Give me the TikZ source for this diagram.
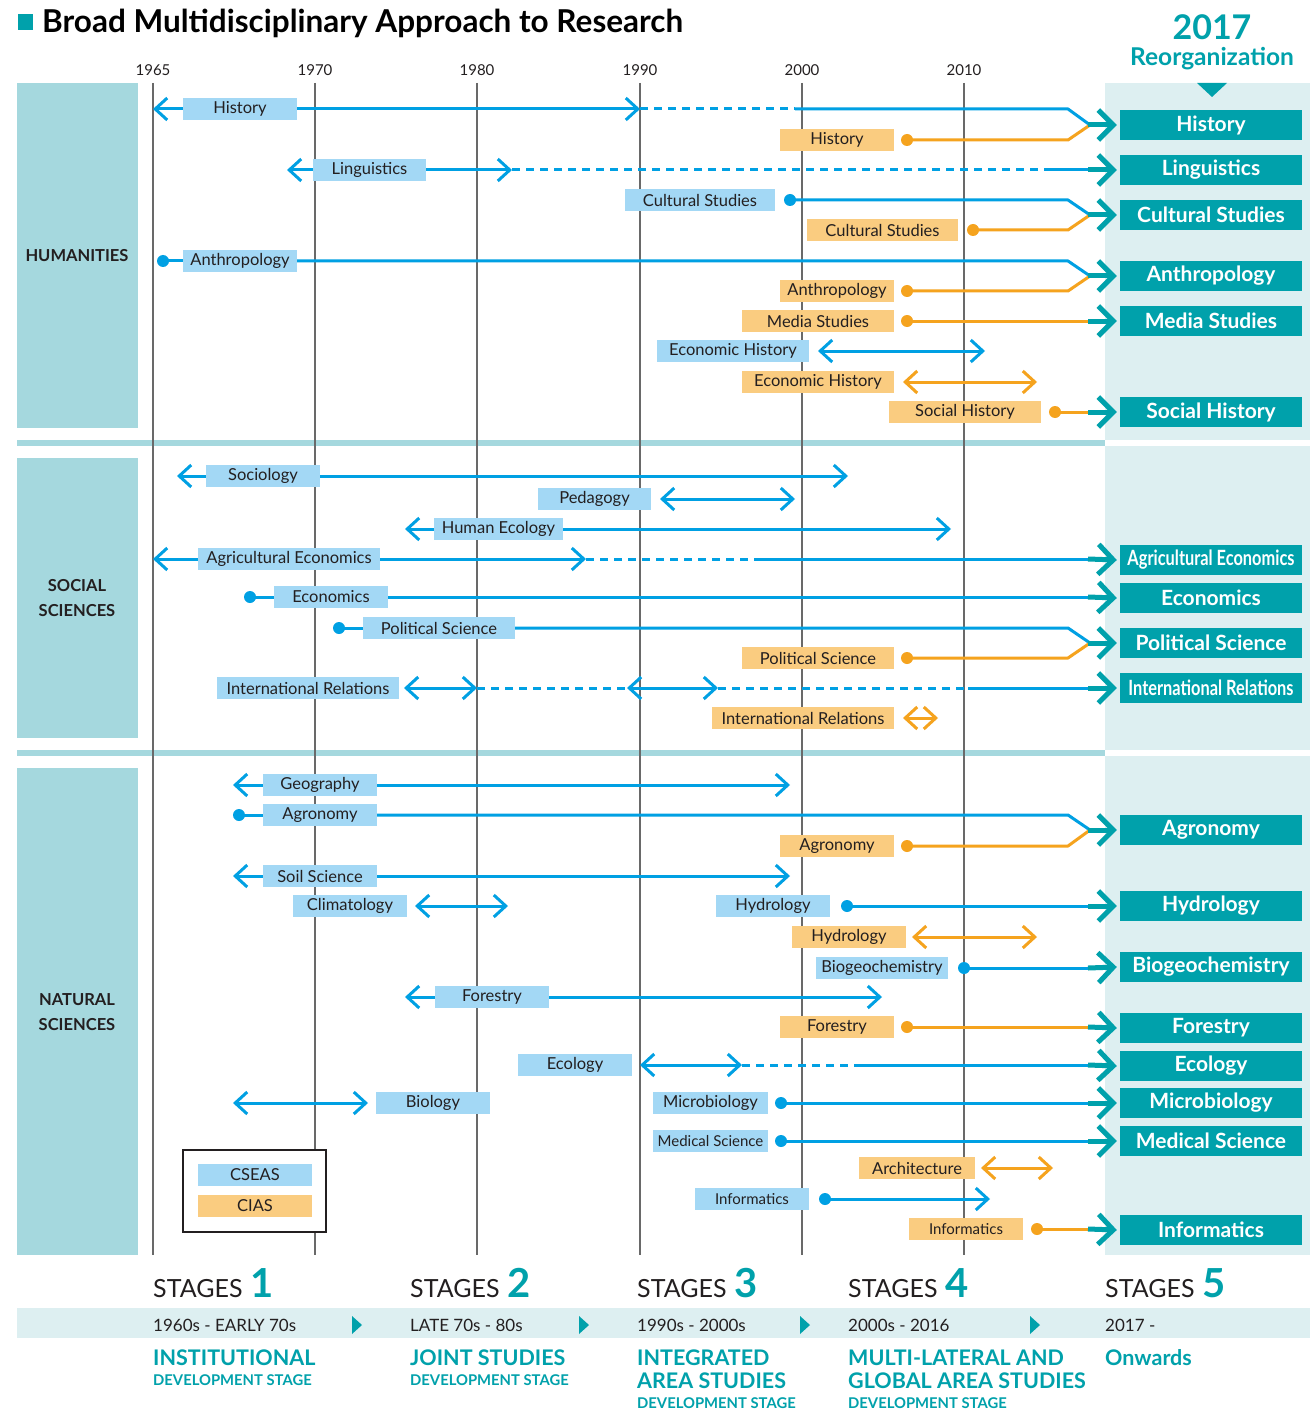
\documentclass[tikz,border=0pt]{standalone}
\usepackage{fontspec}
\usepackage{graphicx}
\setmainfont{Lato}
\usetikzlibrary{arrows.meta}
\definecolor{tealD}{RGB}{0,161,171}
\definecolor{catc}{RGB}{165,216,222}
\definecolor{panel}{RGB}{221,239,241}
\definecolor{cblue}{RGB}{0,160,227}
\definecolor{bfill}{RGB}{163,216,245}
\definecolor{corange}{RGB}{245,163,30}
\definecolor{ofill}{RGB}{250,204,128}
\definecolor{gridc}{RGB}{105,105,105}
\definecolor{txt}{RGB}{35,31,32}
\tikzset{
  chev/.tip={Straight Barb[length=12pt,width=22pt]},
  tchev/.tip={Straight Barb[length=15pt,width=30pt]},
  lab/.style={minimum height=22pt, inner sep=0pt, text=txt, font=\fontsize{16.5}{19}\selectfont},
  cb/.style={lab, fill=bfill},
  co/.style={lab, fill=ofill},
  rbx/.style={fill=tealD, minimum width=182pt, minimum height=30pt, inner sep=0pt, text=white, font=\fontsize{21}{24}\selectfont\bfseries},
  bl/.style={draw=cblue, line width=3pt, line join=round},
  ol/.style={draw=corange, line width=3pt, line join=round},
  tl/.style={draw=tealD, line width=5pt, -tchev},
  dsh/.style={dash pattern=on 8pt off 6pt},
  gridl/.style={draw=gridc, line width=1.4pt},
  yr/.style={font=\fontsize{15}{18}\selectfont, text=txt},
  cat/.style={font=\fontsize{16.5}{25}\selectfont\bfseries, text=txt, align=center},
  stg/.style={anchor=base west, font=\fontsize{25}{30}\selectfont, text=txt, inner sep=0pt},
  per/.style={anchor=west, font=\fontsize{17}{20}\selectfont, text=txt, inner sep=0pt},
  hd/.style={anchor=base west, font=\fontsize{21.5}{24}\selectfont\bfseries, text=tealD, inner sep=0pt},
  sub/.style={anchor=base west, font=\fontsize{14.8}{17}\selectfont\bfseries, text=tealD, inner sep=0pt}
}
\newcommand{\bludot}[1]{\fill[cblue] (#1) circle (6pt);}
\newcommand{\orgdot}[1]{\fill[corange] (#1) circle (6pt);}
\begin{document}
\begin{tikzpicture}[x=1pt,y=-1pt]
\useasboundingbox (0,0) rectangle (1310,1412);
\fill[white] (0,0) rectangle (1310,1412);
% title
\fill[tealD] (18,14) rectangle (33,30);
\node[anchor=base west, inner sep=0pt, font=\fontsize{31.5}{34}\selectfont\bfseries, text=black] (title) at (42,33) {Broad Multidisciplinary Approach to Research};
\node[anchor=base, inner sep=0pt, font=\fontsize{34}{36}\selectfont\bfseries, text=tealD] (y2017) at (1212,40) {2017};
\node[anchor=base, inner sep=0pt, font=\fontsize{24.5}{27}\selectfont\bfseries, text=tealD] (reorg) at (1212,66) {Reorganization};
% panels
\fill[catc] (17,83) rectangle (138,428);
\fill[catc] (17,458) rectangle (138,738);
\fill[catc] (17,768) rectangle (138,1255);
\fill[panel] (1105,83) rectangle (1310,440);
\fill[panel] (1105,446) rectangle (1310,750);
\fill[panel] (1105,756) rectangle (1310,1255);
\fill[catc] (17,440) rectangle (1105,446);
\fill[catc] (17,750) rectangle (1105,756);
\fill[tealD] (1197,83) -- (1227,83) -- (1212,97) -- cycle;
\node[cat] (hum) at (77,256) {HUMANITIES};
\node[cat] (soc) at (77,598) {SOCIAL\\SCIENCES};
\node[cat] (nat) at (77,1012) {NATURAL\\SCIENCES};
% years and grid
\foreach \x/\y in {153/1965,315/1970,477/1980,640/1990,802/2000,964/2010}{
  \node[yr] (yr\y) at (\x,70) {\y};
  \draw[gridl] (\x,83) -- (\x,1255);
}
% ================= HUMANITIES
\node[cb,minimum width=114pt] (hisB) at (240,109) {History};
\draw[bl,-chev] (hisB.west) -- (153,109);
\draw[bl,-chev] (hisB.east) -- (640,109);
\draw[bl,dsh] (640,109) -- (795,109);
\draw[bl] (795,109) -- (1068,109) -- (1090,125);
\node[co,minimum width=114pt] (hisO) at (837,140) {History};
\draw[ol] (907,140) -- (1068,140) -- (1090,125);
\orgdot{907,140}
\node[rbx] (hisR) at (1211,125) {History};
\draw[tl] (1088,125) -- ([xshift=-3pt]hisR.west);

\node[cb,minimum width=113pt] (linB) at (369.5,170) {Linguistics};
\draw[bl,-chev] (linB.west) -- (287,170);
\draw[bl,-chev] (linB.east) -- (512,170);
\draw[bl,dsh] (512,170) -- (1045,170);
\draw[bl] (1045,170) -- (1090,170);
\node[rbx] (linR) at (1211,170) {Linguistics};
\draw[tl] (1088,170) -- ([xshift=-3pt]linR.west);

\node[cb,minimum width=150pt] (culB) at (700,200) {Cultural Studies};
\draw[bl] (790,200) -- (1068,200) -- (1090,215);
\bludot{790,200}
\node[co,minimum width=151pt] (culO) at (882.5,230) {Cultural Studies};
\draw[ol] (973,230) -- (1068,230) -- (1090,215);
\orgdot{973,230}
\node[rbx] (culR) at (1211,215) {Cultural Studies};
\draw[tl] (1088,215) -- ([xshift=-3pt]culR.west);

\node[cb,minimum width=114pt] (antB) at (240,261) {Anthropology};
\draw[bl] (163,261) -- (antB.west);
\bludot{163,261}
\draw[bl] (antB.east) -- (1068,261) -- (1090,276);
\node[co,minimum width=114pt] (antO) at (837,291) {Anthropology};
\draw[ol] (907,291) -- (1068,291) -- (1090,276);
\orgdot{907,291}
\node[rbx] (antR) at (1211,276) {Anthropology};
\draw[tl] (1088,276) -- ([xshift=-3pt]antR.west);

\node[co,minimum width=152pt] (medO) at (818,321) {Media Studies};
\draw[ol] (907,321) -- (1090,321);
\orgdot{907,321}
\node[rbx] (medR) at (1211,321) {Media Studies};
\draw[tl] (1088,321) -- ([xshift=-3pt]medR.west);

\node[cb,minimum width=152pt] (ehB) at (733,351) {Economic History};
\draw[bl,chev-chev] (818,351) -- (985,351);
\node[co,minimum width=152pt] (ehO) at (818,382) {Economic History};
\draw[ol,chev-chev] (903,382) -- (1037,382);

\node[co,minimum width=152pt] (shO) at (965,412) {Social History};
\draw[ol] (1055,412) -- (1090,412);
\orgdot{1055,412}
\node[rbx] (shR) at (1211,412) {Social History};
\draw[tl] (1088,412) -- ([xshift=-3pt]shR.west);

% ================= SOCIAL SCIENCES
\node[cb,minimum width=114pt] (socB) at (263,476) {Sociology};
\draw[bl,-chev] (socB.west) -- (177,476);
\draw[bl,-chev] (socB.east) -- (848,476);

\node[cb,minimum width=113pt] (pedB) at (594.5,499) {Pedagogy};
\draw[bl,chev-chev] (660,499) -- (795,499);

\node[cb,minimum width=129pt] (heB) at (498.5,529) {Human Ecology};
\draw[bl,-chev] (heB.west) -- (405,529);
\draw[bl,-chev] (heB.east) -- (951,529);

\node[cb,minimum width=182pt] (aeB) at (289,559) {Agricultural Economics};
\draw[bl,-chev] (aeB.west) -- (153,559);
\draw[bl,-chev] (aeB.east) -- (586,559);
\draw[bl,dsh] (586,559) -- (755,559);
\draw[bl] (755,559) -- (1090,559);
\node[rbx] (aeR) at (1211,560) {\scalebox{0.78}[1]{Agricultural Economics}};
\draw[tl] (1088,559) -- ([xshift=-3pt,yshift=0pt]aeR.west);

\node[cb,minimum width=114pt] (ecB) at (331,597) {Economics};
\draw[bl] (250,597) -- (ecB.west);
\bludot{250,597}
\draw[bl] (ecB.east) -- (1090,597);
\node[rbx] (ecR) at (1211,598) {Economics};
\draw[tl] (1088,597) -- ([xshift=-3pt]ecR.west);

\node[cb,minimum width=152pt] (psB) at (439,628) {Political Science};
\draw[bl] (339,628) -- (psB.west);
\bludot{339,628}
\draw[bl] (psB.east) -- (1068,628) -- (1090,643);
\node[co,minimum width=152pt] (psO) at (818,658) {Political Science};
\draw[ol] (907,658) -- (1068,658) -- (1090,643);
\orgdot{907,658}
\node[rbx] (psR) at (1211,643) {Political Science};
\draw[tl] (1088,643) -- ([xshift=-3pt]psR.west);

\node[cb,minimum width=182pt] (irB) at (308,688) {International Relations};
\draw[bl,chev-chev] (404,688) -- (477,688);
\draw[bl,dsh] (477,688) -- (627,688);
\draw[bl,chev-chev] (627,688) -- (718,688);
\draw[bl,dsh] (718,688) -- (968,688);
\draw[bl] (968,688) -- (1090,688);
\node[rbx] (irR) at (1211,688) {\scalebox{0.78}[1]{International Relations}};
\draw[tl] (1088,688) -- ([xshift=-3pt]irR.west);
\node[co,minimum width=182pt] (irO) at (803,718) {International Relations};
\draw[ol,chev-chev] (903,718) -- (938,718);

% ================= NATURAL SCIENCES
\node[cb,minimum width=114pt] (geoB) at (320,785) {Geography};
\draw[bl,-chev] (geoB.west) -- (233,785);
\draw[bl,-chev] (geoB.east) -- (790,785);

\node[cb,minimum width=114pt] (agB) at (320,815) {Agronomy};
\draw[bl] (239,815) -- (agB.west);
\bludot{239,815}
\draw[bl] (agB.east) -- (1068,815) -- (1090,830);
\node[co,minimum width=114pt] (agO) at (837,846) {Agronomy};
\draw[ol] (907,846) -- (1068,846) -- (1090,830);
\orgdot{907,846}
\node[rbx] (agR) at (1211,830) {Agronomy};
\draw[tl] (1088,830) -- ([xshift=-3pt]agR.west);

\node[cb,minimum width=114pt] (soilB) at (320,876) {Soil Science};
\draw[bl,-chev] (soilB.west) -- (233,876);
\draw[bl,-chev] (soilB.east) -- (790,876);

\node[cb,minimum width=114pt] (clB) at (350,906) {Climatology};
\draw[bl,chev-chev] (415,906) -- (508,906);

\node[cb,minimum width=114pt] (hyB) at (773,906) {Hydrology};
\draw[bl] (847,906) -- (1090,906);
\bludot{847,906}
\node[rbx] (hyR) at (1211,906) {Hydrology};
\draw[tl] (1088,906) -- ([xshift=-3pt]hyR.west);
\node[co,minimum width=114pt] (hyO) at (849,937) {Hydrology};
\draw[ol,chev-chev] (912,937) -- (1037,937);

\node[cb,minimum width=132pt] (bgB) at (882,968) {Biogeochemistry};
\draw[bl] (964,968) -- (1090,968);
\bludot{964,968}
\node[rbx] (bgR) at (1211,967) {Biogeochemistry};
\draw[tl] (1088,968) -- ([xshift=-3pt]bgR.west);

\node[cb,minimum width=114pt] (foB) at (492,997) {Forestry};
\draw[bl,-chev] (foB.west) -- (405,997);
\draw[bl,-chev] (foB.east) -- (882,997);
\node[co,minimum width=114pt] (foO) at (837,1027) {Forestry};
\draw[ol] (907,1027) -- (1090,1027);
\orgdot{907,1027}
\node[rbx] (foR) at (1211,1028) {Forestry};
\draw[tl] (1088,1027) -- ([xshift=-3pt]foR.west);

\node[cb,minimum width=114pt] (ecoB) at (575,1065) {Ecology};
\draw[bl,chev-chev] (640,1065) -- (742,1065);
\draw[bl,dsh] (742,1065) -- (855,1065);
\draw[bl] (855,1065) -- (1090,1065);
\node[rbx] (ecoR) at (1211,1066) {Ecology};
\draw[tl] (1088,1065) -- ([xshift=-3pt]ecoR.west);

\node[cb,minimum width=114pt] (bioB) at (433,1103) {Biology};
\draw[bl,chev-chev] (233,1103) -- (368,1103);

\node[cb,minimum width=115pt] (micB) at (710.5,1103) {Microbiology};
\draw[bl] (781,1103) -- (1090,1103);
\bludot{781,1103}
\node[rbx] (micR) at (1211,1103) {Microbiology};
\draw[tl] (1088,1103) -- ([xshift=-3pt]micR.west);

\node[cb,minimum width=115pt] (msB) at (710.5,1141) {\fontsize{15}{18}\selectfont Medical Science};
\draw[bl] (781,1141) -- (1090,1141);
\bludot{781,1141}
\node[rbx] (msR) at (1211,1141) {Medical Science};
\draw[tl] (1088,1141) -- ([xshift=-3pt]msR.west);

\node[co,minimum width=116pt] (arO) at (917,1168) {Architecture};
\draw[ol,chev-chev] (981,1168) -- (1053,1168);

\node[cb,minimum width=114pt] (infB) at (752,1199) {\fontsize{15}{18}\selectfont Informatics};
\draw[bl,-chev] (825,1199) -- (990,1199);
\bludot{825,1199}
\node[co,minimum width=114pt] (infO) at (966,1229) {\fontsize{15}{18}\selectfont Informatics};
\draw[ol] (1037,1229) -- (1090,1229);
\orgdot{1037,1229}
\node[rbx] (infR) at (1211,1230) {Informatics};
\draw[tl] (1088,1229) -- ([xshift=-3pt]infR.west);

% legend
\draw[fill=white, draw=txt, line width=1.2pt] (183,1150) rectangle (326,1232);
\node[cb,minimum width=114pt] (lgB) at (255,1175) {CSEAS};
\node[co,minimum width=114pt] (lgO) at (255,1206) {CIAS};

% ================= STAGES
\fill[panel] (17,1308) rectangle (1310,1338);
\foreach \x in {352,579,800,1030}{
  \fill[tealD] (\x,1316) -- (\x+10,1325) -- (\x,1334) -- cycle;
}
\node[stg] (st1) at (153,1297) {STAGES\hspace{8pt}{\fontsize{40}{40}\selectfont\bfseries\color{tealD}1}};
\node[stg] (st2) at (410,1297) {STAGES\hspace{8pt}{\fontsize{40}{40}\selectfont\bfseries\color{tealD}2}};
\node[stg] (st3) at (637,1297) {STAGES\hspace{8pt}{\fontsize{40}{40}\selectfont\bfseries\color{tealD}3}};
\node[stg] (st4) at (848,1297) {STAGES\hspace{8pt}{\fontsize{40}{40}\selectfont\bfseries\color{tealD}4}};
\node[stg] (st5) at (1105,1297) {STAGES\hspace{8pt}{\fontsize{40}{40}\selectfont\bfseries\color{tealD}5}};
\node[per] (p1) at (153,1325) {1960s - EARLY 70s};
\node[per] (p2) at (410,1325) {LATE 70s - 80s};
\node[per] (p3) at (637,1325) {1990s - 2000s};
\node[per] (p4) at (848,1325) {2000s - 2016};
\node[per] (p5) at (1105,1325) {2017 -};
\node[hd] (h1) at (153,1365) {INSTITUTIONAL};
\node[sub] (s1) at (153,1385) {DEVELOPMENT STAGE};
\node[hd] (h2) at (410,1365) {JOINT STUDIES};
\node[sub] (s2) at (410,1385) {DEVELOPMENT STAGE};
\node[hd] (h3a) at (637,1365) {INTEGRATED};
\node[hd] (h3b) at (637,1388) {AREA STUDIES};
\node[sub] (s3) at (637,1408) {DEVELOPMENT STAGE};
\node[hd] (h4a) at (848,1365) {MULTI-LATERAL AND};
\node[hd] (h4b) at (848,1388) {GLOBAL AREA STUDIES};
\node[sub] (s4) at (848,1408) {DEVELOPMENT STAGE};
\node[hd] (h5) at (1105,1365) {Onwards};
\end{tikzpicture}
\end{document}
